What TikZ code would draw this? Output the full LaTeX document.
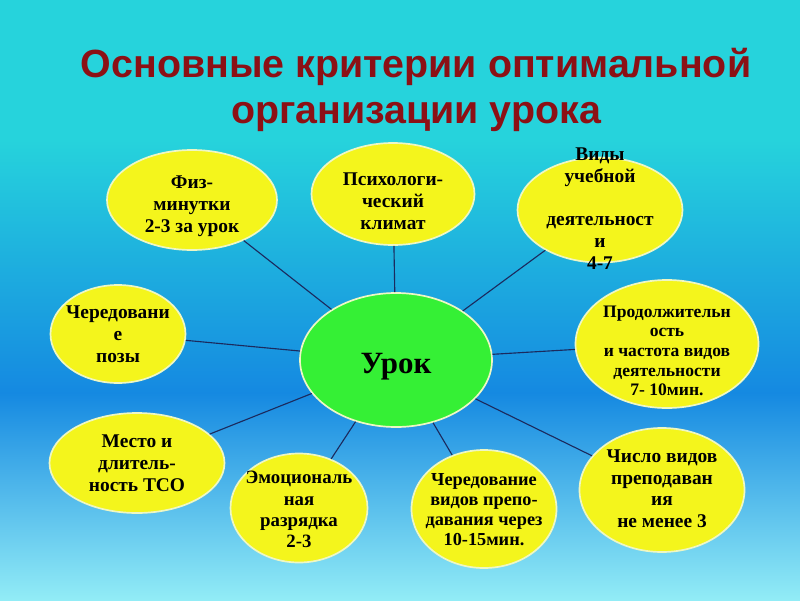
\documentclass[tikz,border=0pt]{standalone}
\usepackage{fontspec}
\setmainfont{Liberation Serif}
\newfontfamily\titlefont{Liberation Sans}
\usepackage{tikz}
\usetikzlibrary{shapes.geometric}
\usepackage{xcolor}
\definecolor{skytop}{HTML}{26D3DC}
\definecolor{skymid}{HTML}{1589E1}
\definecolor{skylow}{HTML}{92ECF6}
\definecolor{bubble}{HTML}{F4F51C}
\definecolor{core}{HTML}{35F035}
\definecolor{rim}{HTML}{EEF7C4}
\definecolor{spokeline}{HTML}{1B2A5E}
\definecolor{heading}{HTML}{8C1015}
% text of a bubble, without size, lowered by #1
\newcommand{\bubtext}[2][5pt]{\smash{\raisebox{-#1}{\makebox[0pt]{\begin{tabular}{@{}c@{}}#2\end{tabular}}}}}

\begin{document}
\begin{tikzpicture}[
  crit/.style={ellipse, draw=rim, line width=1.2pt, fill=bubble, inner sep=0pt, font=\fontsize{13.8}{15.5}\selectfont\bfseries},
  hub/.style={ellipse, draw=rim, line width=1.2pt, fill=core, inner sep=0pt, font=\fontsize{22}{24}\selectfont\bfseries},
  spoke/.style={draw=spokeline, line width=0.8pt}
]
  % Background
  \useasboundingbox (0,0) rectangle (20,-15);
  \fill[skytop] (0,0) rectangle (20,-3.5);
  \shade[top color=skytop, bottom color=skymid] (0,-3.49) rectangle (20,-9.825);
  \shade[top color=skymid, bottom color=skylow] (0,-9.82) rectangle (20,-15);

  % Title
  \node[font=\titlefont\fontsize{28}{32.5}\selectfont\bfseries, text=heading, align=center] (title) at (10.4,-2.25) {Основные критерии оптимальной\\организации урока};

  % Center
  \node[hub, minimum width=4.8cm, minimum height=3.35cm] (urok) at (9.9,-9.0) {\bubtext[10pt]{Урок}};

  % Criteria
  \node[crit, minimum width=4.25cm, minimum height=2.5cm] (fiz) at (4.8,-5.0) {\bubtext[8pt]{Физ-\\минутки\\2-3 за урок}};
  \node[crit, minimum width=4.075cm, minimum height=2.55cm] (psych) at (9.825,-4.85) {\bubtext[10pt]{Психологи-\\ческий\\климат}};
  \node[crit, minimum width=4.125cm, minimum height=2.625cm] (vidy) at (15.0,-5.25) {\bubtext[4pt]{Виды\\учебной\\ \\деятельност\\и\\4-7}};
  \node[crit, minimum width=3.375cm, minimum height=2.45cm] (poza) at (2.95,-8.35) {\bubtext{Чередовани\\е\\позы}};
  \node[crit, minimum width=4.575cm, minimum height=3.2cm, font=\fontsize{12.5}{14}\selectfont\bfseries] (dlit) at (16.675,-8.6) {\bubtext[9pt]{Продолжительн\\ость\\и частота видов\\деятельности\\7- 10мин.}};
  \node[crit, minimum width=4.375cm, minimum height=2.5cm] (tso) at (3.425,-11.575) {\bubtext{Место и\\длитель-\\ность ТСО}};
  \node[crit, minimum width=3.425cm, minimum height=2.725cm, font=\fontsize{13.4}{15}\selectfont\bfseries] (emo) at (7.475,-12.7) {\bubtext[6pt]{Эмоциональ\\ная\\разрядка\\2-3}};
  \node[crit, minimum width=3.625cm, minimum height=2.95cm, font=\fontsize{13}{14.3}\selectfont\bfseries] (smena) at (12.1,-12.725) {\bubtext{Чередование\\видов препо-\\давания через\\10-15мин.}};
  \node[crit, minimum width=4.125cm, minimum height=3.1cm] (chislo) at (16.55,-12.25) {\bubtext[4pt]{Число видов\\преподаван\\ия\\не менее 3}};

  % Spokes
  \foreach \n in {fiz,psych,vidy,poza,dlit,tso,emo,smena,chislo}
    \draw[spoke] (urok) -- (\n);
\end{tikzpicture}
\end{document}
